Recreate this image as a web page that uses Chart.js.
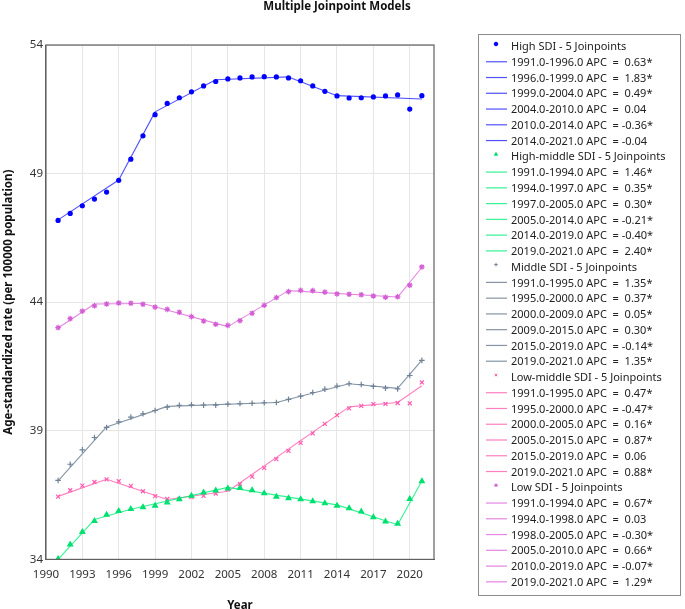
<!DOCTYPE html>
<html>
<head>
<meta charset="utf-8">
<script src="https://cdn.jsdelivr.net/npm/chart.js"></script>
<style>
  html, body { margin: 0; padding: 0; background: #fff; }
  #wrap { width: 685px; height: 609px; }
</style>
</head>
<body>
<div id="wrap"><canvas id="chart"></canvas></div>
<script>
// observed rates, 1991-2021
const years = [1991,1992,1993,1994,1995,1996,1997,1998,1999,2000,2001,2002,2003,2004,2005,2006,
               2007,2008,2009,2010,2011,2012,2013,2014,2015,2016,2017,2018,2019,2020,2021];
const xTickValues = [1990,1993,1996,1999,2002,2005,2008,2011,2014,2017,2020];
const yTickValues = [34,39,44,49,54];

const highSDI = [47.18,47.45,47.75,48.01,48.28,48.74,49.56,50.47,51.29,51.73,51.95,52.18,52.41,52.58,52.68,52.72,
                 52.76,52.77,52.76,52.72,52.61,52.41,52.20,52.02,51.94,51.95,51.98,52.02,52.06,51.51,52.03];
const highMiddleSDI = [34.02,34.58,35.07,35.49,35.74,35.88,35.96,36.03,36.09,36.21,36.34,36.47,36.60,36.68,36.76,36.78,
                       36.69,36.57,36.44,36.38,36.34,36.26,36.18,36.09,35.99,35.86,35.64,35.47,35.39,36.35,37.04];
const middleSDI = [37.07,37.70,38.26,38.74,39.13,39.35,39.53,39.66,39.79,39.92,39.99,40.01,40.00,40.00,40.04,40.06,
                   40.07,40.09,40.10,40.22,40.35,40.49,40.62,40.74,40.83,40.80,40.73,40.66,40.63,41.15,41.74];
const lowMiddleSDI = [36.44,36.69,36.87,37.01,37.11,37.04,36.86,36.65,36.46,36.35,36.35,36.42,36.47,36.56,36.72,36.93,
                      37.22,37.56,37.90,38.22,38.53,38.90,39.27,39.61,39.87,39.97,40.04,40.05,40.08,40.07,40.88];
const lowSDI = [43.01,43.36,43.65,43.86,43.93,43.97,43.96,43.92,43.81,43.72,43.61,43.44,43.27,43.14,43.10,43.28,
                43.57,43.88,44.18,44.41,44.46,44.45,44.39,44.32,44.31,44.29,44.24,44.19,44.21,44.66,45.37];

// joinpoint model: years of the joinpoints, modelled value there, APC per segment
const highJp = [1991,1996,1999,2004,2010,2014,2021];
const highFit = [47.20,48.75,51.40,52.65,52.76,52.03,51.90];
const highApc = ['0.63*','1.83*','0.49*','0.04','-0.36*','-0.04'];

const highMiddleJp = [1991,1994,1997,2005,2014,2019,2021];
const highMiddleFit = [34.00,35.55,35.95,36.80,36.12,35.35,37.05];
const highMiddleApc = ['1.46*','0.35*','0.30*','-0.21*','-0.40*','2.40*'];

const middleJp = [1991,1995,2000,2009,2015,2019,2021];
const middleFit = [37.05,39.15,39.95,40.10,40.83,40.65,41.75];
const middleApc = ['1.35*','0.37*','0.05*','0.30*','-0.14*','1.35*'];

const lowMiddleJp = [1991,1995,2000,2005,2015,2019,2021];
const lowMiddleFit = [36.45,37.12,36.33,36.65,39.93,40.10,40.75];
const lowMiddleApc = ['0.47*','-0.47*','0.16*','0.87*','0.06','0.88*'];

const lowJp = [1991,1994,1998,2005,2010,2019,2021];
const lowFit = [43.00,43.93,43.95,43.05,44.45,44.20,45.35];
const lowApc = ['0.67*','0.03','-0.30*','0.66*','-0.07*','1.29*'];

const groups = [
    { name: 'High SDI', obs: highSDI, jp: highJp, fit: highFit, apc: highApc,
      marker: 'circle', pointColor: '#0000ff', lineColor: 'rgba(50,50,255,0.85)' },
    { name: 'High-middle SDI', obs: highMiddleSDI, jp: highMiddleJp, fit: highMiddleFit, apc: highMiddleApc,
      marker: 'triangle', pointColor: '#00e070', lineColor: 'rgba(0,240,120,0.8)' },
    { name: 'Middle SDI', obs: middleSDI, jp: middleJp, fit: middleFit, apc: middleApc,
      marker: 'cross', pointColor: '#6f8296', lineColor: 'rgba(119,136,153,0.9)' },
    { name: 'Low-middle SDI', obs: lowMiddleSDI, jp: lowMiddleJp, fit: lowMiddleFit, apc: lowMiddleApc,
      marker: 'crossRot', pointColor: '#ff5aae', lineColor: 'rgba(255,105,180,0.85)' },
    { name: 'Low SDI', obs: lowSDI, jp: lowJp, fit: lowFit, apc: lowApc,
      marker: 'star', pointColor: '#d45fd4', lineColor: 'rgba(225,120,225,0.9)' }
];

const datasets = [];
groups.forEach(g => {
    datasets.push({
        label: g.name + ' - ' + (g.jp.length - 2) + ' Joinpoints',
        data: years.map((yr, i) => ({ x: yr, y: g.obs[i] })),
        showLine: false,
        pointStyle: g.marker,
        pointRadius: g.marker === 'circle' ? 2.6 : 2.8,
        pointBorderWidth: g.marker === 'circle' ? 0 : 1.2,
        pointBackgroundColor: g.pointColor,
        pointBorderColor: g.pointColor,
        isObs: true
    });
    for (let i = 0; i < g.apc.length; i++) {
        const a = g.apc[i];
        datasets.push({
            label: g.jp[i].toFixed(1) + '-' + g.jp[i + 1].toFixed(1) + ' APC  = ' + (a.startsWith('-') ? '' : ' ') + a,
            data: [{ x: g.jp[i], y: g.fit[i] }, { x: g.jp[i + 1], y: g.fit[i + 1] }],
            borderColor: g.lineColor,
            borderWidth: 1.1,
            pointRadius: 0,
            isObs: false
        });
    }
});

const tickFont = { family: 'Noto Sans', size: 11.5 };
const boldFont = { family: 'Noto Sans', size: 11.5, weight: 'bold' };

// legend drawn in a framed box on the right
const boxLegend = {
    id: 'boxLegend',
    afterDraw(chart) {
        const ctx = chart.ctx;
        const left = 478, top = 34, right = 680, bottom = 595;
        ctx.save();
        ctx.strokeStyle = '#8c8c8c';
        ctx.lineWidth = 1;
        ctx.strokeRect(left + 0.5, top + 0.5, right - left, bottom - top);
        ctx.font = '11px "Noto Sans"';
        ctx.textBaseline = 'middle';
        chart.data.datasets.forEach((ds, i) => {
            const y = 46 + i * 15.76;
            if (ds.isObs) {
                ctx.fillStyle = ds.pointBackgroundColor;
                ctx.strokeStyle = ds.pointBorderColor;
                ctx.lineWidth = 1;
                Chart.helpers.drawPoint(ctx, { pointStyle: ds.pointStyle, radius: 1.8, rotation: 0, borderWidth: 1 }, 496, y - 2);
            } else {
                ctx.strokeStyle = ds.borderColor;
                ctx.lineWidth = 1.2;
                ctx.beginPath();
                ctx.moveTo(486, y);
                ctx.lineTo(507, y);
                ctx.stroke();
            }
            ctx.fillStyle = '#222';
            ctx.fillText(ds.label, 511, y + 1);
        });
        ctx.restore();
    }
};

const frameAndTitle = {
    id: 'frameAndTitle',
    afterDraw(chart) {
        const ctx = chart.ctx;
        const a = chart.chartArea;
        ctx.save();
        ctx.strokeStyle = '#606060';
        ctx.lineWidth = 1.2;
        ctx.strokeRect(a.left, a.top, a.right - a.left, a.bottom - a.top);
        ctx.fillStyle = '#111';
        ctx.font = 'bold 11.5px "Noto Sans"';
        ctx.textAlign = 'center';
        ctx.textBaseline = 'middle';
        ctx.fillText('Multiple Joinpoint Models', 337, 7);
        ctx.restore();
    }
};

new Chart(document.getElementById('chart'), {
    type: 'line',
    data: { datasets: datasets },
    options: {
        responsive: true,
        maintainAspectRatio: false,
        animation: false,
        layout: { padding: { left: 2, right: 251, top: 45, bottom: -4 } },
        plugins: {
            legend: { display: false },
            title: { display: false },
            tooltip: { enabled: false }
        },
        scales: {
            x: {
                type: 'linear',
                min: 1990,
                max: 2022,
                afterBuildTicks: scale => { scale.ticks = xTickValues.map(v => ({ value: v })); },
                ticks: {
                    color: '#333',
                    font: tickFont,
                    padding: 8,
                    callback: v => String(v)
                },
                grid: { color: '#e6e6e6', drawTicks: false },
                border: { color: '#606060' },
                title: {
                    display: true,
                    text: 'Year',
                    color: '#111',
                    font: boldFont,
                    padding: { top: 10, bottom: 0 }
                }
            },
            y: {
                min: 34,
                max: 54,
                afterBuildTicks: scale => { scale.ticks = yTickValues.map(v => ({ value: v })); },
                ticks: {
                    color: '#333',
                    font: tickFont,
                    padding: 3
                },
                grid: { color: '#e6e6e6', drawTicks: false },
                border: { color: '#606060' },
                title: {
                    display: true,
                    text: 'Age-standardized rate (per 100000 population)',
                    color: '#111',
                    font: boldFont,
                    padding: { top: 0, bottom: 11 }
                }
            }
        }
    },
    plugins: [boxLegend, frameAndTitle]
});
</script>
</body>
</html>
